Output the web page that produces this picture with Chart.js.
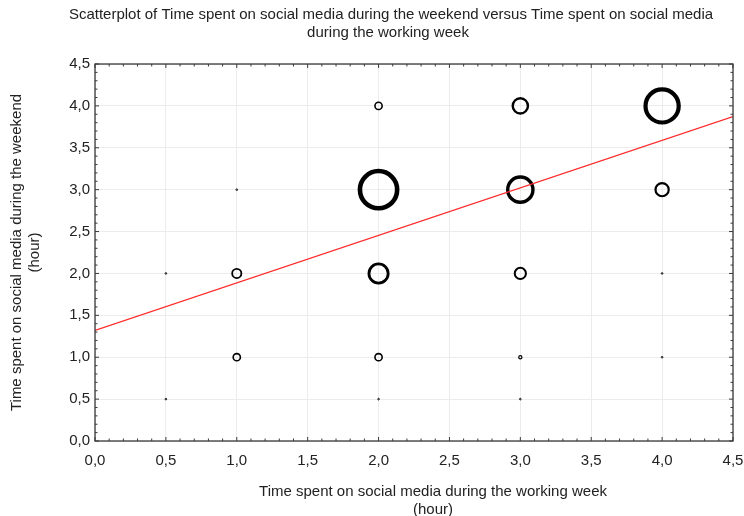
<!DOCTYPE html>
<html>
<head>
<meta charset="utf-8">
<script src="https://cdn.jsdelivr.net/npm/chart.js@4/dist/chart.umd.min.js"></script>
<style>
  html, body { margin: 0; padding: 0; background: #fff; }
  #wrap { width: 744px; height: 516px; }
</style>
</head>
<body>
<div id="wrap"><canvas id="c" width="744" height="516"></canvas></div>
<script>
// ---- data ----
const chartTitle = ['Scatterplot of Time spent on social media during the weekend versus Time spent on social media', 'during the working week'];
const xAxisTitle = ['Time spent on social media during the working week', '(hour)'];
const yAxisTitle = ['Time spent on social media during the weekend', '(hour)'];
const xTickLabels = ['0,0','0,5','1,0','1,5','2,0','2,5','3,0','3,5','4,0','4,5'];
const yTickLabels = ['0,0','0,5','1,0','1,5','2,0','2,5','3,0','3,5','4,0','4,5'];
// working week hours (x), weekend hours (y), frequency of respondents (bubble size)
const workWeek  = [0.5, 0.5, 1.0, 1.0, 1.0, 2.0, 2.0, 2.0, 2.0, 2.0, 3.0, 3.0, 3.0, 3.0, 3.0, 4.0, 4.0, 4.0, 4.0];
const weekend   = [0.5, 2.0, 1.0, 2.0, 3.0, 0.5, 1.0, 2.0, 3.0, 4.0, 0.5, 1.0, 2.0, 3.0, 4.0, 1.0, 2.0, 3.0, 4.0];
const frequency = [1,   1,   4,   5,   1,   1,   4,   10,  19,  4,   1,   2,   6,   13,  8,   1,   1,   7,   17];
// regression line: weekend = intercept + slope * workWeek
const fitIntercept = 1.32;
const fitSlope = 0.567;
const axisMin = 0, axisMax = 4.5;

const points = workWeek.map((x, i) => ({ x: x, y: weekend[i] }));
const fitLine = [
  { x: axisMin, y: fitIntercept + fitSlope * axisMin },
  { x: axisMax, y: fitIntercept + fitSlope * axisMax }
];

const FONT = "'Liberation Sans', Arial, Helvetica, sans-serif";
const TXT = '#222';

function bw(n) { return 0.8 + 0.2 * n; }
function rad(n) { return Math.max(0.8, 1.1 * n - bw(n) / 2); }

const framePlugin = {
  id: 'frame',
  afterDatasetsDraw(chart) {
    const { ctx, chartArea: a, scales } = chart;
    ctx.save();
    ctx.strokeStyle = '#3a3a3a';
    ctx.lineWidth = 1.3;
    ctx.strokeRect(a.left, a.top, a.right - a.left, a.bottom - a.top);
    ctx.lineWidth = 1;
    ctx.beginPath();
    for (let k = 0; k <= 45; k++) {
      const v = k / 10;
      const len = (k % 5 === 0) ? 4 : 2.5;
      const px = scales.x.getPixelForValue(v);
      const py = scales.y.getPixelForValue(v);
      ctx.moveTo(px, a.bottom); ctx.lineTo(px, a.bottom - len);
      ctx.moveTo(px, a.top); ctx.lineTo(px, a.top + len);
      ctx.moveTo(a.left, py); ctx.lineTo(a.left + len, py);
      ctx.moveTo(a.right, py); ctx.lineTo(a.right - len, py);
    }
    ctx.stroke();
    ctx.restore();
  },
  afterDraw(chart) {
    const { ctx } = chart;
    ctx.save();
    ctx.fillStyle = TXT;
    ctx.font = '15px ' + FONT;
    ctx.textAlign = 'center';
    ctx.textBaseline = 'middle';
    ctx.fillText(chartTitle[0], 391, 15);
    ctx.fillText(chartTitle[1], 388, 33);
    ctx.fillText(xAxisTitle[0], 433, 492);
    ctx.fillText(xAxisTitle[1], 433, 510);
    ctx.restore();
  }
};

new Chart(document.getElementById('c'), {
  type: 'scatter',
  data: {
    datasets: [
      {
        type: 'line',
        label: 'fit',
        data: fitLine,
        borderColor: '#ff2a2a',
        borderWidth: 1.3,
        pointRadius: 0,
        fill: false,
        order: 0
      },
      {
        label: 'respondents',
        data: points,
        pointRadius: ctx => rad(frequency[ctx.dataIndex]),
        pointHoverRadius: ctx => rad(frequency[ctx.dataIndex]),
        pointBorderWidth: ctx => bw(frequency[ctx.dataIndex]),
        pointBorderColor: '#000',
        pointBackgroundColor: 'rgba(0,0,0,0)',
        order: 1
      }
    ]
  },
  options: {
    responsive: false,
    animation: false,
    events: [],
    layout: { autoPadding: false, padding: { top: 64, right: 0, bottom: 0, left: 0 } },
    plugins: {
      legend: { display: false },
      title: { display: false },
      tooltip: { enabled: false }
    },
    scales: {
      x: {
        type: 'linear',
        min: axisMin, max: axisMax,
        afterFit: s => { s.height = 75; s.paddingRight = 11; s.paddingLeft = 0; },
        ticks: {
          stepSize: 0.5,
          padding: 11,
          color: TXT,
          font: { family: FONT, size: 15 },
          maxRotation: 0,
          callback: (v, i) => xTickLabels[Math.round(v * 2)]
        },
        grid: { color: '#ececec', lineWidth: 1, drawTicks: false },
        border: { display: false },
        title: { display: false }
      },
      y: {
        type: 'linear',
        min: axisMin, max: axisMax,
        afterFit: s => { s.width = 95; s.paddingTop = 0; s.paddingBottom = 0; },
        ticks: {
          stepSize: 0.5,
          padding: 5,
          color: TXT,
          font: { family: FONT, size: 15 },
          callback: (v, i) => yTickLabels[Math.round(v * 2)]
        },
        grid: { color: '#ececec', lineWidth: 1, drawTicks: false },
        border: { display: false },
        title: {
          display: true,
          text: yAxisTitle,
          color: TXT,
          font: { family: FONT, size: 15, lineHeight: 1.2 },
          padding: { top: 8, bottom: 0 }
        }
      }
    }
  },
  plugins: [framePlugin]
});
</script>
</body>
</html>
